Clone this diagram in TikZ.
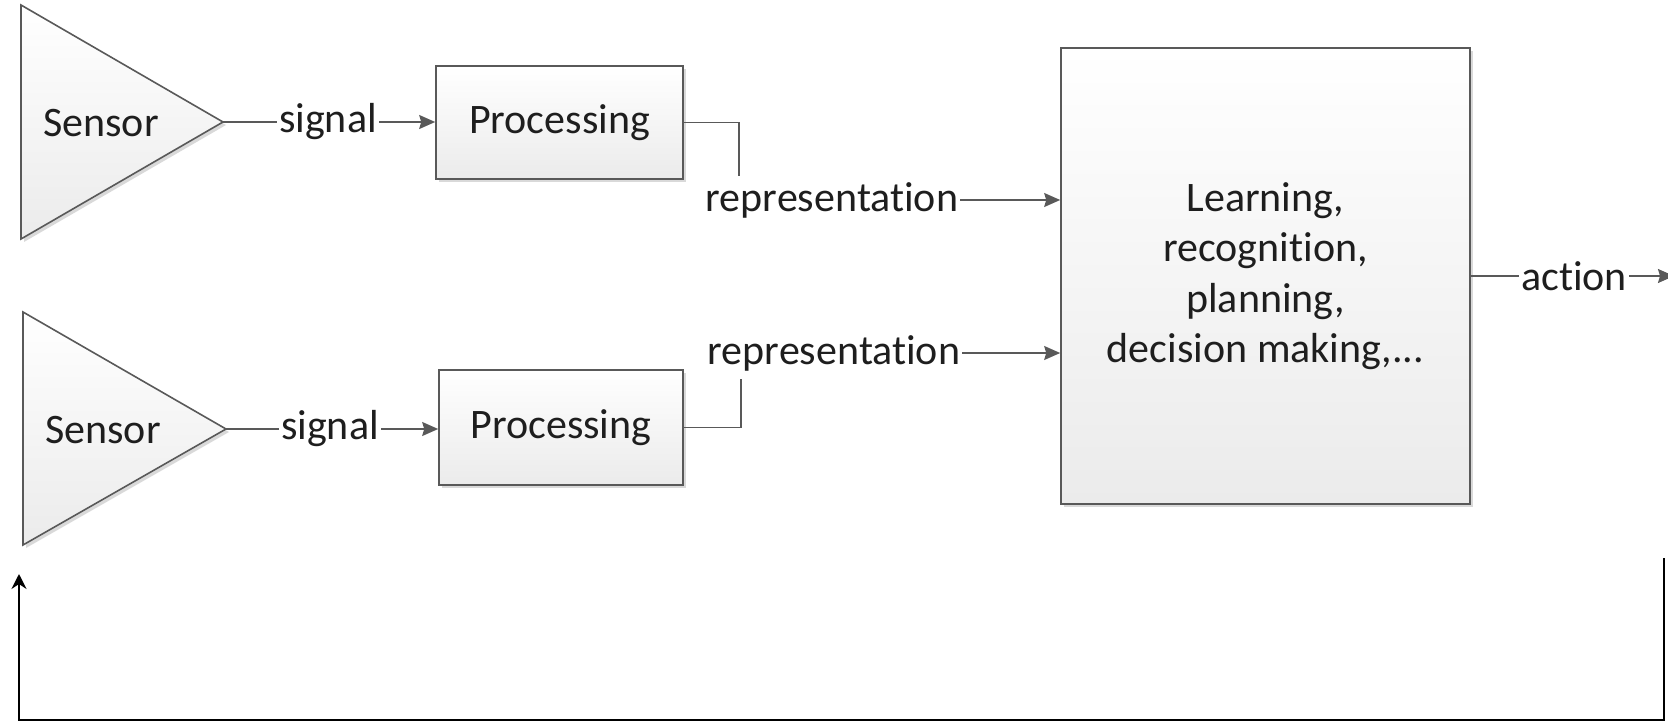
\documentclass[tikz,border=0pt]{standalone}
\usepackage{fontspec}
\setmainfont{Carlito}[RawFeature=-liga]
\usetikzlibrary{arrows.meta,shadows,calc}
\definecolor{linegray}{HTML}{595959}
\definecolor{txt}{HTML}{1E1E1E}
\definecolor{fillbot}{HTML}{EBEBEB}
\begin{document}
\begin{tikzpicture}[x=1pt,y=-1pt,
  every node/.style={font=\fontsize{42}{50.5}\selectfont, text=txt},
  shapebox/.style={draw=linegray, line width=1.6pt, top color=white, bottom color=fillbot,
    drop shadow={shadow xshift=3pt, shadow yshift=-3pt, opacity=0.15, fill=black}},
  lbl/.style={inner xsep=2pt, inner ysep=0pt},
  conn/.style={draw=linegray, line width=1.6pt},
  arr/.style={conn, -{Stealth[length=16pt,width=14pt,inset=2pt]}},
  fb/.style={draw=black, line width=2.2pt, -{Stealth[length=15pt,width=15pt,inset=5pt]}}
]
\useasboundingbox (0,0) rectangle (1668,722);

% sensors
\coordinate (tip1) at (223,122);
\path[shapebox] (21,5) -- (tip1) -- (21,239) -- cycle;
\node (sensor1) at (101,123) {Sensor};
\coordinate (tip2) at (226,429);
\path[shapebox] (23,312) -- (tip2) -- (23,545) -- cycle;
\node (sensor2) at (103,430) {Sensor};

% processing
\node[shapebox, minimum width=247pt, minimum height=113pt, inner sep=0pt] (proc1) at (559.5,122.5) {Processing};
\node[shapebox, minimum width=244pt, minimum height=115pt, inner sep=0pt] (proc2) at (561,427.5) {Processing};

% big box
\node[shapebox, minimum width=409pt, minimum height=456pt, align=center, inner sep=0pt] (big) at (1265.5,276)
  {Learning,\\recognition,\\planning,\\decision making,...};

% signal connectors
\node[lbl] (sig1) at (328,122) {signal};
\draw[conn] (tip1) -- (sig1.west);
\draw[arr] (sig1.east) -- (sig1.east -| proc1.west);
\node[lbl] (sig2) at (330,429) {signal};
\draw[conn] (tip2) -- (sig2.west);
\draw[arr] (sig2.east) -- (sig2.east -| proc2.west);

% representation connectors
\node[lbl] (rep1) at (832,200) {representation};
\coordinate (r1top) at (739,176);
\draw[conn] (proc1.east) -| (r1top);
\draw[arr] (rep1.east) -- (rep1.east -| big.west);
\node[lbl] (rep2) at (834,353) {representation};
\coordinate (r2bot) at (741,379);
\draw[conn] (proc2.east) -| (r2bot);
\draw[arr] (rep2.east) -- (rep2.east -| big.west);

% action
\node[lbl] (act) at (1574,276) {action};
\coordinate (actend) at (1674,276);
\draw[conn] (big.east) -- (act.west);
\draw[arr] (act.east) -- (actend);

% feedback
\coordinate (fbstart) at (1664,558);
\coordinate (fbB) at (1664,720);
\coordinate (fbC) at (19,720);
\coordinate (fbend) at (19,574);
\draw[fb] (fbstart) -- (fbB) -- (fbC) -- (fbend);
\end{tikzpicture}
\end{document}
